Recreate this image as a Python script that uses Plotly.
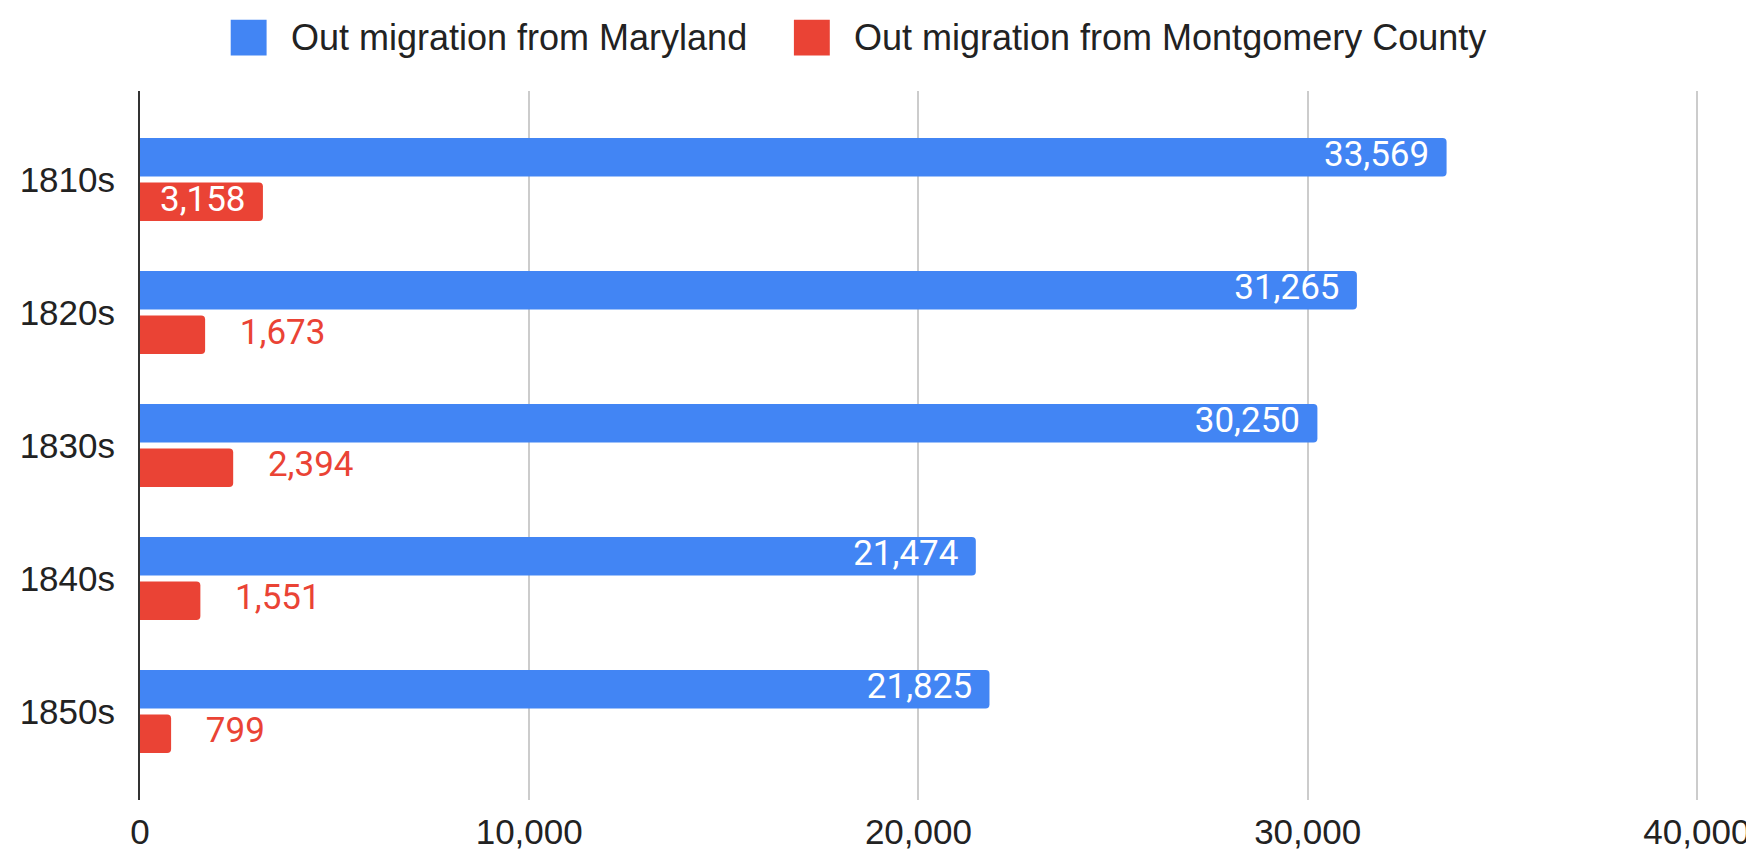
import plotly.graph_objects as go

categories = ["1810s", "1820s", "1830s", "1840s", "1850s"]
series_names = ["Out migration from Maryland", "Out migration from Montgomery County"]
maryland = [33569, 31265, 30250, 21474, 21825]
montgomery = [3158, 1673, 2394, 1551, 799]
x_ticks = [0, 10000, 20000, 30000, 40000]
x_ticklabels = ["0", "10,000", "20,000", "30,000", "40,000"]
colors = ["#4285F4", "#EA4335"]

W, H = 1754, 855
L, R, T, B = 129, 60, 83, 55
pw, ph = W - L - R, H - T - B

def px(x):
    return (x - L) / pw

def py(y):
    return (H - B - y) / ph

NB = "\u00a0"
label_size = 35
INSIDE_LIMIT = 3000  # labels inside the bar when the bar is long enough

fig = go.Figure()
for vals, name, col in zip([maryland, montgomery], series_names, colors):
    fig.add_trace(go.Bar(
        y=categories, x=vals, orientation="h", name=name,
        marker=dict(color=col, line=dict(width=0), cornerradius=4),
        showlegend=False, hoverinfo="skip",
    ))

for vals, col in zip([maryland, montgomery], colors):
    inside = [v > INSIDE_LIMIT for v in vals]
    fig.add_trace(go.Scatter(
        y=categories, x=vals, orientation="h", mode="text",
        text=[f"{v:,}" + NB * 2 if ins else NB * 4 + f"{v:,}" for v, ins in zip(vals, inside)],
        textposition=["middle left" if ins else "middle right" for ins in inside],
        textfont=dict(family="Roboto", size=label_size,
                      color=["white" if ins else col for ins in inside]),
        showlegend=False, hoverinfo="skip", cliponaxis=False,
    ))

shapes = []
annotations = []
legend_items = [(220, 278), (785, 843)]
for (sx, tx), name, col in zip(legend_items, series_names, colors):
    shapes.append(dict(type="rect", xref="paper", yref="paper",
                       x0=px(sx), x1=px(sx + 36), y0=py(47), y1=py(11),
                       fillcolor=col, line=dict(width=0), layer="above"))
    annotations.append(dict(xref="paper", yref="paper", x=px(tx), y=py(29),
                            text=name, showarrow=False, xanchor="left", yanchor="middle",
                            font=dict(family="Liberation Sans", size=36, color="#222222")))
# right frame strip
shapes.append(dict(type="rect", xref="paper", yref="paper",
                   x0=px(1748), x1=px(1760), y0=py(H + 5), y1=py(-5),
                   fillcolor="#d9c690", line=dict(width=0), layer="above"))

fig.update_layout(
    width=W, height=H,
    margin=dict(l=L, r=R, t=T, b=B, pad=0),
    paper_bgcolor="white", plot_bgcolor="white",
    barmode="group", bargap=0.331, bargroupgap=0.133,
    scattermode="group", scattergap=0.331,
    font=dict(family="Liberation Sans", size=35, color="#222222"),
    shapes=shapes, annotations=annotations,
    xaxis=dict(range=[0, 40080], tickvals=x_ticks, ticktext=x_ticklabels,
               showgrid=True, gridcolor="#cccccc", gridwidth=1.5,
               zeroline=False, showline=False, ticks="",
               tickfont=dict(family="Liberation Sans", size=35, color="#222222"),
               ticklabelstandoff=8),
    yaxis=dict(type="category", range=[4.6655, -0.6655], showgrid=False,
               zeroline=False, showline=True, linecolor="#333333", linewidth=2,
               ticks="", ticklabelstandoff=16,
               tickfont=dict(family="Liberation Sans", size=35, color="#222222")),
)
fig.write_html("out.html")
